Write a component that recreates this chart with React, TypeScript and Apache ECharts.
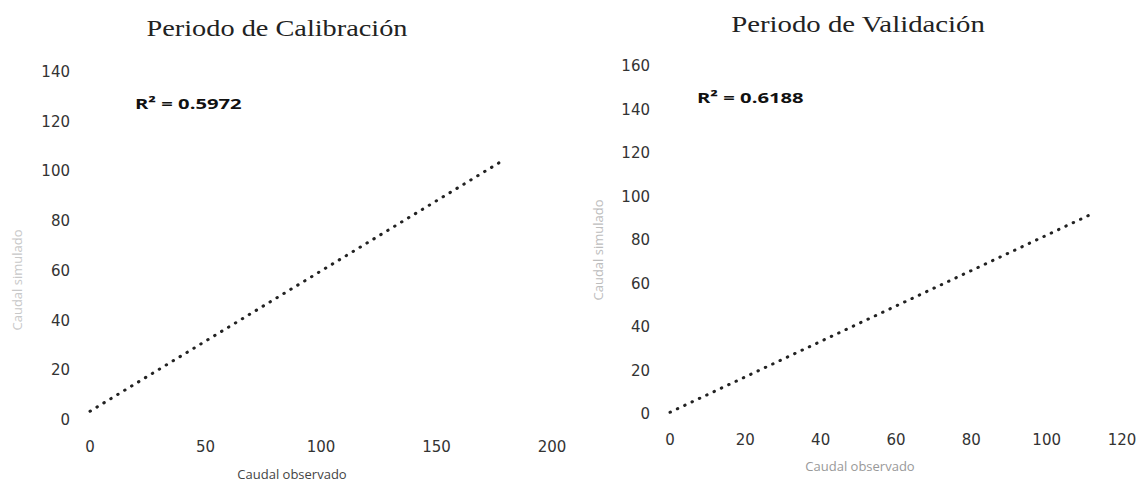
import React, { useEffect, useRef } from "react";
import * as echarts from "echarts";

const calibLine: [number, number][] = [
  [0, 3.5],
  [178, 104],
];
const validLine: [number, number][] = [
  [0, 0.8],
  [112, 92],
];
const titles = ["Periodo de Calibración", "Periodo de Validación"];
const r2Labels = ["R² = 0.5972", "R² = 0.6188"];
const xName = "Caudal observado";
const yName = "Caudal simulado";

export default function App() {
  const ref = useRef<HTMLDivElement>(null);
  useEffect(() => {
    if (!ref.current) return;
    const chart = echarts.init(ref.current, undefined, { renderer: "svg" });
    const tickFont = {
      color: "#333",
      fontSize: 15,
      fontFamily: "DejaVu Sans, sans-serif",
    };
    const baseAxis = {
      type: "value" as const,
      axisLine: { show: false },
      axisTick: { show: false },
      splitLine: { show: false },
    };
    const dotted = {
      color: "#222",
      width: 3,
      type: [0.5, 7.6] as number[],
      cap: "round" as const,
    };
    const txt = (
      text: string,
      x: number,
      y: number,
      font: string,
      fill: string,
      align: string,
      scaleX = 1,
      rotation = 0
    ) => ({
      type: "text",
      x,
      y,
      scaleX,
      rotation,
      style: { text, font, fill, textAlign: align, textVerticalAlign: "middle" },
    });
    chart.setOption({
      animation: false,
      backgroundColor: "#fff",
      grid: [
        { left: 90, top: 72, width: 462, height: 348 },
        { left: 670, top: 66, width: 452, height: 348 },
      ],
      xAxis: [
        { ...baseAxis, gridIndex: 0, min: 0, max: 200, interval: 50, axisLabel: { ...tickFont, margin: 19 } },
        { ...baseAxis, gridIndex: 1, min: 0, max: 120, interval: 20, axisLabel: { ...tickFont, margin: 18 } },
      ],
      yAxis: [
        { ...baseAxis, gridIndex: 0, min: 0, max: 140, interval: 20, axisLabel: { ...tickFont, margin: 20 } },
        { ...baseAxis, gridIndex: 1, min: 0, max: 160, interval: 20, axisLabel: { ...tickFont, margin: 20 } },
      ],
      series: [
        { type: "line", xAxisIndex: 0, yAxisIndex: 0, data: calibLine, symbol: "none", lineStyle: dotted },
        { type: "line", xAxisIndex: 1, yAxisIndex: 1, data: validLine, symbol: "none", lineStyle: dotted },
      ],
      graphic: [
        txt(titles[0], 277, 28, "24px 'Liberation Serif', serif", "#222", "center", 1.18),
        txt(titles[1], 858, 24, "24px 'Liberation Serif', serif", "#222", "center", 1.2),
        txt(r2Labels[0], 135, 103, "bold 15px 'Open Sans', sans-serif", "#111", "left", 1.35),
        txt(r2Labels[1], 697, 97, "bold 15px 'Open Sans', sans-serif", "#111", "left", 1.35),
        txt(xName, 292, 474, "13px 'Open Sans', sans-serif", "#444", "center"),
        txt(xName, 860, 466, "13px 'Open Sans', sans-serif", "#999", "center"),
        txt(yName, 17, 280, "13px 'Open Sans', sans-serif", "#c8c8c8", "center", 1, Math.PI / 2),
        txt(yName, 598, 250, "13px 'Open Sans', sans-serif", "#bdbdbd", "center", 1, Math.PI / 2),
      ],
    });
    return () => chart.dispose();
  }, []);
  return (
    <div
      ref={ref}
      style={{ position: "absolute", left: 0, top: 0, width: 1140, height: 486 }}
    />
  );
}
